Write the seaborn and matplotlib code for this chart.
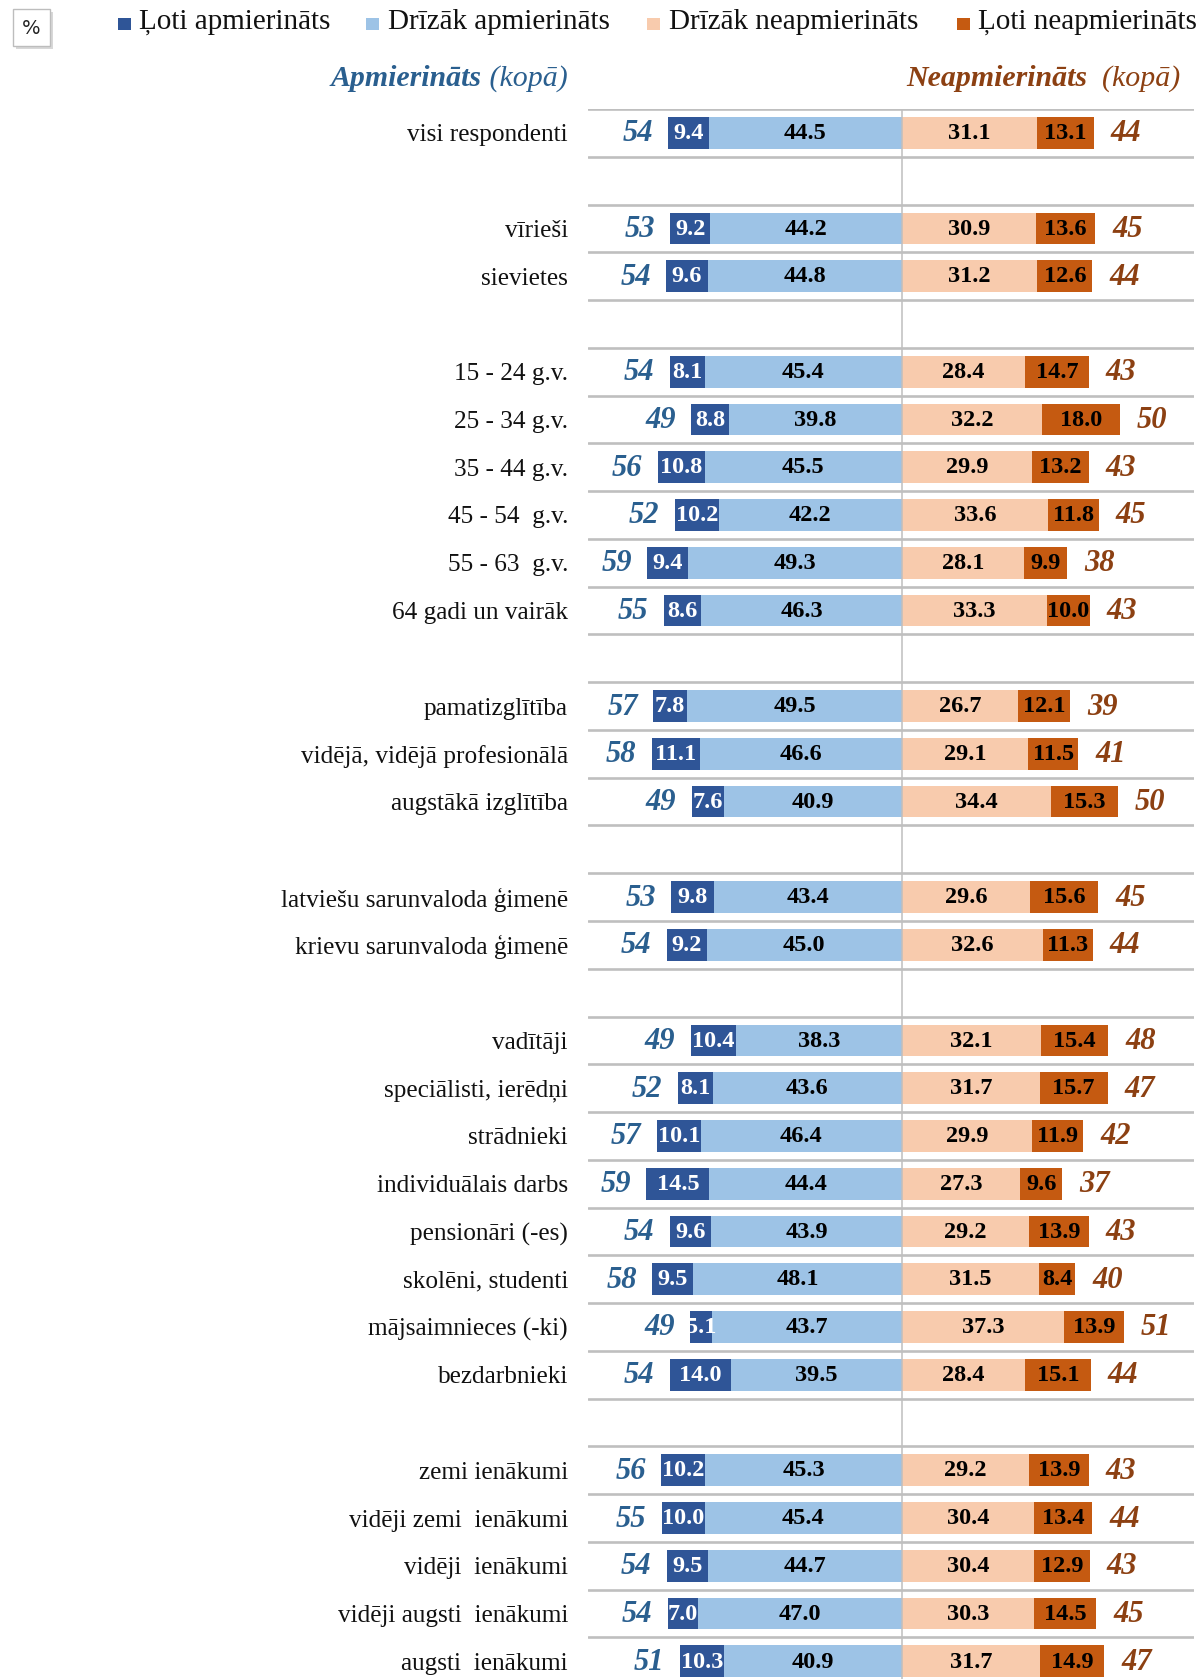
import matplotlib
matplotlib.use("Agg")
import matplotlib.pyplot as plt
from matplotlib.patches import Rectangle
import seaborn as sns
import pandas as pd
import numpy as np

# ---------------- data ----------------
groups = [
    ["visi respondenti"],
    ["vīrieši", "sievietes"],
    ["15 - 24 g.v.", "25 - 34 g.v.", "35 - 44 g.v.", "45 - 54  g.v.", "55 - 63  g.v.",
     "64 gadi un vairāk"],
    ["pamatizglītība", "vidējā, vidējā profesionālā", "augstākā izglītība"],
    ["latviešu sarunvaloda ģimenē", "krievu sarunvaloda ģimenē"],
    ["vadītāji", "speciālisti, ierēdņi", "strādnieki", "individuālais darbs",
     "pensionāri (-es)", "skolēni, studenti", "mājsaimnieces (-ki)", "bezdarbnieki"],
    ["zemi ienākumi", "vidēji zemi  ienākumi", "vidēji  ienākumi",
     "vidēji augsti  ienākumi", "augsti  ienākumi"],
]
very_sat = [9.4, 9.2, 9.6, 8.1, 8.8, 10.8, 10.2, 9.4, 8.6, 7.8, 11.1, 7.6, 9.8, 9.2,
            10.4, 8.1, 10.1, 14.5, 9.6, 9.5, 5.1, 14.0, 10.2, 10.0, 9.5, 7.0, 10.3]
rather_sat = [44.5, 44.2, 44.8, 45.4, 39.8, 45.5, 42.2, 49.3, 46.3, 49.5, 46.6, 40.9, 43.4, 45.0,
              38.3, 43.6, 46.4, 44.4, 43.9, 48.1, 43.7, 39.5, 45.3, 45.4, 44.7, 47.0, 40.9]
rather_dis = [31.1, 30.9, 31.2, 28.4, 32.2, 29.9, 33.6, 28.1, 33.3, 26.7, 29.1, 34.4, 29.6, 32.6,
              32.1, 31.7, 29.9, 27.3, 29.2, 31.5, 37.3, 28.4, 29.2, 30.4, 30.4, 30.3, 31.7]
very_dis = [13.1, 13.6, 12.6, 14.7, 18.0, 13.2, 11.8, 9.9, 10.0, 12.1, 11.5, 15.3, 15.6, 11.3,
            15.4, 15.7, 11.9, 9.6, 13.9, 8.4, 13.9, 15.1, 13.9, 13.4, 12.9, 14.5, 14.9]
total_sat = [54, 53, 54, 54, 49, 56, 52, 59, 55, 57, 58, 49, 53, 54,
             49, 52, 57, 59, 54, 58, 49, 54, 56, 55, 54, 54, 51]
total_dis = [44, 45, 44, 43, 50, 43, 45, 38, 43, 39, 41, 50, 45, 44,
             48, 47, 42, 37, 43, 40, 51, 44, 43, 44, 43, 45, 47]
legend_labels = ["Ļoti apmierināts", "Drīzāk apmierināts", "Drīzāk neapmierināts", "Ļoti neapmierināts"]
head_left = ("Apmierināts", " (kopā)")
head_right = ("Neapmierināts", "  (kopā)")

# ---------------- styling ----------------
C_VS = "#2F5597"
C_RS = "#9DC3E6"
C_RD = "#F8CBAD"
C_VD = "#C55A11"
C_TS = "#2A5F8F"
C_TD = "#8C4012"
GRID = "#BFBFBF"
SERIF = ["Liberation Serif", "DejaVu Serif"]

sns.set_theme(style="white")
plt.rcParams["font.family"] = SERIF

W, H = 1204, 1679
fig = plt.figure(figsize=(W / 100, H / 100), dpi=100)

# order with blank gap slots
order = []
labels = []
gap_i = 0
for gi, g in enumerate(groups):
    if gi > 0:
        gap_i += 1
        order.append(" " * gap_i)
    for lab in g:
        order.append(lab)
        labels.append(lab)

df = pd.DataFrame({
    "label": labels,
    "vs": very_sat, "rs": rather_sat, "rd": rather_dis, "vd": very_dis,
    "ts": total_sat, "td": total_dis,
})
df["neg_all"] = -(df["vs"] + df["rs"])
df["neg_rs"] = -df["rs"]
df["pos_all"] = df["rd"] + df["vd"]
df["pos_rd"] = df["rd"]
pos = {lab: i for i, lab in enumerate(order)}
df["y"] = df["label"].map(pos)

# axes placement (pixels)
x0_px, x1_px = 588, 1194
center_px = 902
ppu = 4.34
xmin = -(center_px - x0_px) / ppu
xmax = (x1_px - center_px) / ppu
top_px = 109
row0_px = 133
step_px = 47.76
ybottom = (H - row0_px) / step_px
ax = fig.add_axes([x0_px / W, 0, (x1_px - x0_px) / W, (H - top_px) / H])

bw = 0.664
for col, c in [("neg_all", C_VS), ("neg_rs", C_RS), ("pos_all", C_VD), ("pos_rd", C_RD)]:
    sns.barplot(data=df, x=col, y="label", order=order, orient="h", color=c,
                saturation=1, width=bw, errorbar=None, linewidth=0, ax=ax, zorder=3)

ax.set_xlim(xmin, xmax)
ax.set_ylim(ybottom, -0.5)
ax.set_xlabel("")
ax.set_ylabel("")
ax.set_xticks([])
for s in ax.spines.values():
    s.set_visible(False)
ax.tick_params(axis="y", length=0, pad=14.4, labelsize=18.2)
for t in ax.get_yticklabels():
    t.set_fontfamily(SERIF)
    t.set_color("#111111")

# grid lines at slot boundaries
for k in range(len(order) + 1):
    ax.axhline(k - 0.5, color=GRID, lw=1.9, zorder=1)
ax.axvline(0, color=GRID, lw=1.1, zorder=6)

# value labels (baseline-positioned so digits sit centred in the bars)
LBL = 17.5
TOT = 22
off_l = 6.2 / step_px
off_t = 8.5 / step_px
for _, r in df.iterrows():
    y = r["y"]
    ax.text(-(r["rs"] + r["vs"] / 2), y + off_l, f"{r['vs']:.1f}", ha="center", va="baseline",
            color="white", fontsize=LBL, fontweight="bold", zorder=7)
    ax.text(-r["rs"] / 2, y + off_l, f"{r['rs']:.1f}", ha="center", va="baseline",
            color="black", fontsize=LBL, fontweight="bold", zorder=7)
    ax.text(r["rd"] / 2, y + off_l, f"{r['rd']:.1f}", ha="center", va="baseline",
            color="black", fontsize=LBL, fontweight="bold", zorder=7)
    ax.text(r["rd"] + r["vd"] / 2, y + off_l, f"{r['vd']:.1f}", ha="center", va="baseline",
            color="black", fontsize=LBL, fontweight="bold", zorder=7)
    ax.text(r["neg_all"] - 3.5, y + off_t, f"{int(r['ts'])}", ha="right", va="baseline",
            color=C_TS, fontsize=TOT, fontweight="bold", fontstyle="italic", zorder=7)
    ax.text(r["pos_all"] + 3.9, y + off_t, f"{int(r['td'])}", ha="left", va="baseline",
            color=C_TD, fontsize=TOT, fontweight="bold", fontstyle="italic", zorder=7)


def fx(x):
    return x / W


def fy(y):
    return 1 - y / H


# headers
hy = 86
HS = 21.5
fig.text(fx(482), fy(hy), head_left[0], ha="right", va="baseline", color=C_TS,
         fontsize=HS, fontweight="bold", fontstyle="italic")
fig.text(fx(482), fy(hy), head_left[1], ha="left", va="baseline", color=C_TS,
         fontsize=HS, fontstyle="italic")
fig.text(fx(1087), fy(hy), head_right[0], ha="right", va="baseline", color=C_TD,
         fontsize=HS, fontweight="bold", fontstyle="italic")
fig.text(fx(1087), fy(hy), head_right[1], ha="left", va="baseline", color=C_TD,
         fontsize=HS, fontstyle="italic")

# legend
leg_marker_x = [118, 366, 647, 957]
leg_text_x = [139, 388, 669, 978]
for mx, tx, lab, c in zip(leg_marker_x, leg_text_x, legend_labels, [C_VS, C_RS, C_RD, C_VD]):
    fig.patches.append(Rectangle((fx(mx), fy(29.5)), 13 / W, 12 / H, transform=fig.transFigure,
                                 facecolor=c, edgecolor="none"))
    fig.text(fx(tx), fy(29), lab, ha="left", va="baseline", fontsize=21, color="#111111")

# percent box
fig.patches.append(Rectangle((fx(16), fy(49)), 37 / W, 37 / H, transform=fig.transFigure,
                             facecolor="#C8C8C8", edgecolor="none", alpha=0.7))
fig.patches.append(Rectangle((fx(13), fy(46)), 37 / W, 37 / H, transform=fig.transFigure,
                             facecolor="white", edgecolor="#BDBDBD", lw=1))
fig.text(fx(31.5), fy(28), "%", ha="center", va="center", fontsize=14,
         family=["DejaVu Sans"], color="#222222")

fig.savefig("out.png", dpi=100)
